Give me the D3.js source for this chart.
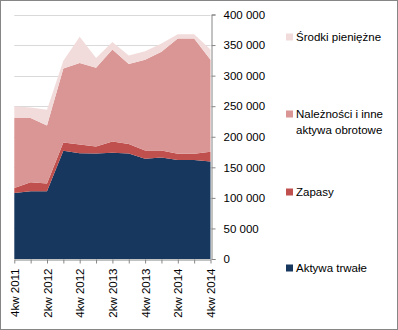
<!DOCTYPE html>
<html>
<head>
<meta charset="utf-8">
<script src="https://cdn.jsdelivr.net/npm/d3@7"></script>
<style>
  body { margin: 0; background: #fff; }
  svg { font-family: "Liberation Sans", Arial, sans-serif; }
</style>
</head>
<body>
<svg id="canvas" width="398" height="330"></svg>
<script>
// quarters, 4kw 2011 .. 4kw 2014
var quarters = ["4kw 2011", "1kw 2012", "2kw 2012", "3kw 2012", "4kw 2012", "1kw 2013", "2kw 2013",
  "3kw 2013", "4kw 2013", "1kw 2014", "2kw 2014", "3kw 2014", "4kw 2014"];
var seriesNames = ["Aktywa trwałe", "Zapasy", "Należności i inne aktywa obrotowe", "Środki pieniężne"];
var aktywaTrwale = [108000, 111000, 111000, 177000, 173000, 172500, 174000, 172500, 164000, 166000, 162000, 162000, 159500];
var zapasy = [8000, 14500, 12500, 13700, 14400, 11500, 18300, 15500, 13500, 11500, 10000, 10000, 16000];
var naleznosci = [114700, 105300, 95000, 120800, 133400, 129000, 150300, 131000, 148500, 161500, 188700, 188700, 150600];
var srodki = [19000, 17000, 25500, 13000, 43000, 16000, 12500, 14000, 14000, 13500, 7000, 7000, 16500];
var yTicks = [0, 50000, 100000, 150000, 200000, 250000, 300000, 350000, 400000];
var colors = ["#17375e", "#c0504d", "#d99694", "#f2dcdb"];

var svg = d3.select("#canvas");

// outer frame
svg.append("rect")
  .attr("x", 0.5).attr("y", 0.5)
  .attr("width", 397).attr("height", 329)
  .attr("fill", "#fff").attr("stroke", "#868686");

var plotLeft = 14.3, plotRight = 210.5, plotTop = 14.5, plotBottom = 259;

var x = d3.scalePoint().domain(quarters).range([plotLeft, plotRight]);
var y = d3.scaleLinear().domain([0, 400000]).range([plotBottom, plotTop]);

// build table for the stack
var table = quarters.map(function(q, i) {
  return { q: q, s0: aktywaTrwale[i], s1: zapasy[i], s2: naleznosci[i], s3: srodki[i] };
});
var stacked = d3.stack().keys(["s0", "s1", "s2", "s3"])(table);

// gridlines
svg.append("g").selectAll("line")
  .data(yTicks.filter(function(t) { return t > 0; }))
  .enter().append("line")
  .attr("x1", plotLeft).attr("x2", plotRight)
  .attr("y1", function(d) { return Math.round(y(d)) + 0.5; })
  .attr("y2", function(d) { return Math.round(y(d)) + 0.5; })
  .attr("stroke", "#d9d9d9");

var area = d3.area()
  .x(function(d) { return x(d.data.q); })
  .y0(function(d) { return y(d[0]); })
  .y1(function(d) { return y(d[1]); });

svg.append("g").selectAll("path")
  .data(stacked)
  .enter().append("path")
  .attr("d", area)
  .attr("fill", function(d, i) { return colors[i]; });

// right y axis
var yAxis = svg.append("g")
  .attr("transform", "translate(" + (Math.round(plotRight) + 0.5) + ",0)")
  .call(d3.axisRight(y).tickValues(yTicks).tickSize(4).tickPadding(8)
    .tickFormat(function(d) { return d3.format(",")(d).replace(/,/g, " "); }));
yAxis.select(".domain").attr("stroke", "#868686");
yAxis.selectAll(".tick line").attr("stroke", "#868686");
yAxis.selectAll("text").attr("font-size", 11.5).attr("fill", "#000");

// bottom x axis
var xAxis = svg.append("g")
  .attr("transform", "translate(0," + (plotBottom + 0.5) + ")")
  .call(d3.axisBottom(x).tickSize(4).tickSizeOuter(0)
    .tickFormat(function(d, i) { return i % 2 === 0 ? d : ""; }));
xAxis.select(".domain").attr("stroke", "#868686");
xAxis.selectAll(".tick line").attr("stroke", "#868686");
xAxis.selectAll("text")
  .attr("font-size", 11.5).attr("fill", "#000")
  .attr("transform", "rotate(-90)")
  .attr("text-anchor", "end")
  .attr("x", -9).attr("y", 0).attr("dy", "0.35em");

// legend
var legendY = [37, 114, 192, 268];
var legendText = [["Aktywa trwałe"], ["Zapasy"], ["Należności i inne", "aktywa obrotowe"], ["Środki pieniężne"]];
var legend = svg.append("g").selectAll("g")
  .data(seriesNames)
  .enter().append("g")
  .attr("transform", function(d, i) { return "translate(286," + legendY[3 - i] + ")"; });
legend.append("rect")
  .attr("x", 0).attr("y", -3.5).attr("width", 7).attr("height", 7)
  .attr("fill", function(d, i) { return colors[i]; });
legend.each(function(d, i) {
  var t = d3.select(this).append("text")
    .attr("font-size", 11.5).attr("fill", "#000");
  legendText[i].forEach(function(line, j) {
    t.append("tspan").attr("x", 10).attr("y", j * 15.5).attr("dy", "0.35em").text(line);
  });
});
</script>
</body>
</html>
